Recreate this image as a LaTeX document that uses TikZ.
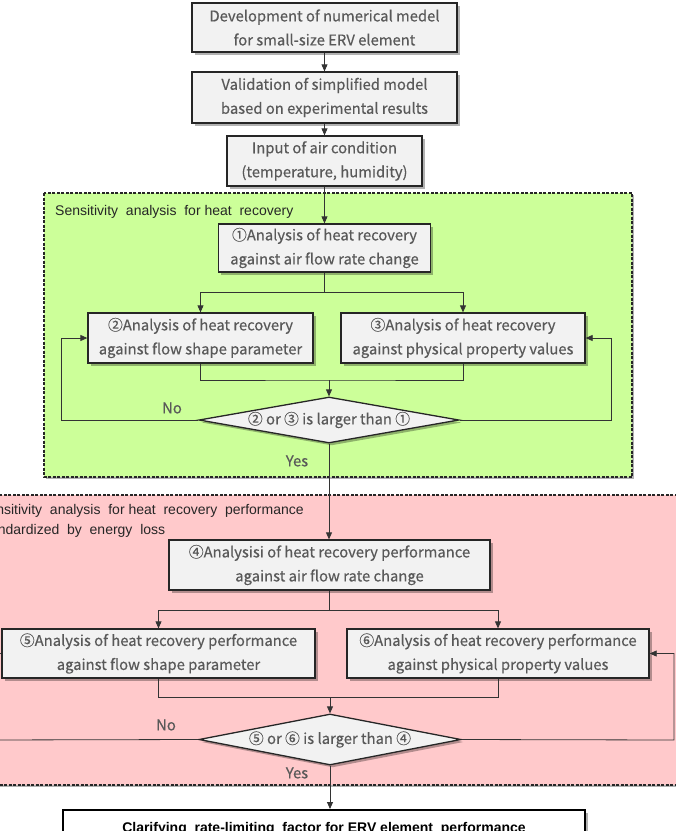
\documentclass[tikz,border=0pt]{standalone}
\usepackage{fontspec}
\setmainfont{Liberation Sans}
\newfontfamily\jpfont[FakeBold=0.4]{Noto Sans CJK JP}
\usetikzlibrary{arrows.meta,shapes.geometric,shadows}
\definecolor{boxfill}{HTML}{F2F2F2}
\definecolor{boxline}{HTML}{262626}
\definecolor{txtgray}{HTML}{595959}
\definecolor{greenbg}{HTML}{CCFF99}
\definecolor{pinkbg}{HTML}{FFC9CB}
\definecolor{connc}{HTML}{333333}
\tikzset{
  softshadow/.style={drop shadow={shadow xshift=2.5pt, shadow yshift=-2.5pt, opacity=0.3, fill=black}},
  procbox/.style={draw=boxline, line width=1.3pt, fill=boxfill, text=txtgray, align=center,
    inner sep=0pt, font=\jpfont\fontsize{14.8}{24}\selectfont, softshadow},
  decision/.style={diamond, aspect=6, draw=boxline, line width=1.3pt, fill=boxfill, text=txtgray,
    inner sep=0pt, font=\jpfont\fontsize{14.8}{16}\selectfont, softshadow},
  region/.style={draw=boxline, dash pattern=on 3pt off 1.5pt, line width=1.2pt,
    drop shadow={shadow xshift=2pt, shadow yshift=-2pt, opacity=0.3, fill=black}},
  conn/.style={draw=connc, line width=0.8pt},
  arr/.style={conn, -{Triangle[length=7pt,width=6pt]}},
  yn/.style={text=txtgray, font=\jpfont\fontsize{14.8}{16}\selectfont, inner sep=0pt},
  reglabel/.style={text=black!85, font=\fontsize{14}{20}\selectfont, inner sep=0pt, align=left},
  finalbox/.style={draw=black, line width=2pt, fill=white, align=center, inner sep=0pt,
    font=\bfseries\fontsize{14}{16}\selectfont, softshadow},
}
\begin{document}
\begin{tikzpicture}[x=1pt, y=-1pt]
\useasboundingbox (0,0) rectangle (676,831);
\clip (0,0) rectangle (676,831);

% regions
\path[region, fill=greenbg] (44,193) rectangle (632,477);
\path[region, fill=pinkbg] (-30,495) rectangle (720,785);
\node[reglabel, anchor=west] (glab) at (55,212) {Sensitivity\ \ analysis\ \ for heat\ \ recovery};
\node[reglabel, anchor=west] (plab) at (-21,521) {Sensitivity\ \ analysis\ \ for heat\ \ recovery\ \ performance\\standardized\ \ by\ \ energy\ \ loss};

% nodes
\node[procbox, minimum width=265pt, minimum height=49pt] (b1) at (324.5,27.5) {Development of numerical medel\\for small-size ERV element};
\node[procbox, minimum width=265pt, minimum height=51pt] (b2) at (324.5,97.5) {Validation of simplified model\\based on experimental results};
\node[procbox, minimum width=195pt, minimum height=50pt] (b3) at (324.5,161) {Input of air condition\\(temperature, humidity)};

\node[procbox, minimum width=212pt, minimum height=48pt] (n1) at (324.5,248) {①Analysis of heat recovery\\against air flow rate change};
\node[procbox, minimum width=225pt, minimum height=50pt] (n2) at (200.5,338) {②Analysis of heat recovery\\against flow shape parameter};
\node[procbox, minimum width=244pt, minimum height=50pt] (n3) at (463,338) {③Analysis of heat recovery\\against physical property values};
\node[decision, minimum width=260pt, minimum height=46pt] (d1) at (329,420) {② or ③ is larger than ①};

\node[procbox, minimum width=321pt, minimum height=50pt] (n4) at (329.5,565) {④Analysisi of heat recovery performance\\against air flow rate change};
\node[procbox, minimum width=313pt, minimum height=49pt] (n5) at (158.5,653.5) {⑤Analysis of heat recovery performance\\against flow shape parameter};
\node[procbox, minimum width=302pt, minimum height=49pt] (n6) at (498,653.5) {⑥Analysis of heat recovery performance\\against physical property values};
\node[decision, minimum width=262pt, minimum height=51pt] (d2) at (330,739.5) {⑤ or ⑥ is larger than ④};

\node[finalbox, minimum width=522pt, minimum height=38pt] (fin) at (324,829) {Clarifying\ \ rate-limiting\ \ factor for ERV element\ \ performance};

% labels
\node[yn] (no1) at (172,408) {No};
\node[yn] (yes1) at (297,461) {Yes};
\node[yn] (no2) at (166,725) {No};
\node[yn] (yes2) at (297,773) {Yes};

% connectors
\draw[arr] (b1.south) -- (b2.north);
\draw[arr] (b2.south) -- (b3.north);
\draw[arr] (b3.south) -- (n1.north);

\coordinate (s1) at (324.5,292);
\draw[conn] (n1.south) -- (s1);
\draw[arr] (s1) -| (n2.north);
\draw[arr] (s1) -| (n3.north);
\coordinate (m1) at (329,380);
\draw[conn] (n2.south) |- (m1) -| (n3.south);
\draw[arr] (m1) -- (d1.north);
\coordinate (l1) at (61,420);
\coordinate (r1) at (611,420);
\draw[arr] (d1.west) -- (l1) |- (n2.west);
\draw[arr] (d1.east) -- (r1) |- (n3.east);
\draw[arr] (d1.south) -- (d1.south |- n4.north);

\coordinate (s2) at (329.5,610);
\draw[conn] (n4.south) -- (s2);
\draw[arr] (s2) -| (n5.north);
\draw[arr] (s2) -| (n6.north);
\coordinate (m2) at (330,697);
\draw[conn] (n5.south) |- (m2) -| (n6.south);
\draw[arr] (m2) -- (d2.north);
\coordinate (l2) at (-15,740);
\coordinate (r2) at (674,740);
\draw[arr] (d2.west) -- (l2) |- (n5.west);
\draw[arr] (d2.east) -- (r2) |- (n6.east);
\draw[arr] (d2.south) -- (d2.south |- fin.north);
\end{tikzpicture}
\end{document}
